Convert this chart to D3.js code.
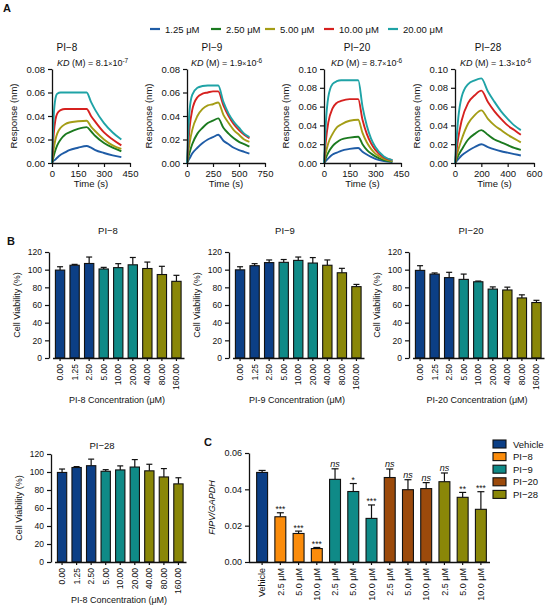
<!DOCTYPE html>
<html><head><meta charset="utf-8">
<script src="https://cdn.jsdelivr.net/npm/d3@7"></script>
<style>
body{margin:0;background:#fff}
svg{display:block;font-family:"Liberation Sans",Arial,Helvetica,sans-serif}
</style>
</head><body>
<svg id="fig" width="550" height="608"></svg>
<script>
// ---------- Panel A data (SPR sensorgrams) ----------
const concLabels = ["1.25 μM", "2.50 μM", "5.00 μM", "10.00 μM", "20.00 μM"];
const lineColors = ["#1f5ca6", "#1b7a1f", "#a49d16", "#d6211f", "#1fa3a6"];

const pi8Time = [0, 10, 20, 30, 50, 75, 100, 150, 200, 225, 250, 300, 350, 400];
const pi8Resp = [
  [0, 0.002, 0.003, 0.0045, 0.007, 0.009, 0.011, 0.013, 0.0145, 0.013, 0.011, 0.0085, 0.0065, 0.005],
  [0, 0.006, 0.011, 0.015, 0.020, 0.024, 0.026, 0.029, 0.0305, 0.027, 0.023, 0.017, 0.013, 0.010],
  [0, 0.012, 0.020, 0.025, 0.030, 0.033, 0.0345, 0.0355, 0.036, 0.031, 0.027, 0.020, 0.015, 0.012],
  [0, 0.025, 0.037, 0.042, 0.045, 0.046, 0.046, 0.046, 0.046, 0.040, 0.035, 0.026, 0.020, 0.015],
  [0, 0.040, 0.055, 0.059, 0.060, 0.060, 0.060, 0.060, 0.060, 0.052, 0.045, 0.034, 0.026, 0.020]
];
const pi9Time = [0, 25, 50, 100, 150, 200, 250, 300, 350, 400, 450, 500, 550, 600];
const pi9Resp = [
  [0, 0.004, 0.008, 0.013, 0.017, 0.020, 0.022, 0.024, 0.019, 0.016, 0.013, 0.011, 0.0095, 0.008],
  [0, 0.009, 0.016, 0.025, 0.030, 0.034, 0.036, 0.038, 0.030, 0.025, 0.021, 0.018, 0.016, 0.014],
  [0, 0.017, 0.028, 0.040, 0.046, 0.049, 0.050, 0.0515, 0.041, 0.034, 0.028, 0.024, 0.020, 0.018],
  [0, 0.030, 0.045, 0.056, 0.059, 0.060, 0.061, 0.061, 0.049, 0.040, 0.033, 0.028, 0.024, 0.021],
  [0, 0.045, 0.058, 0.064, 0.0655, 0.066, 0.066, 0.066, 0.052, 0.042, 0.035, 0.030, 0.025, 0.022]
];
const pi20Time = [0, 10, 25, 50, 75, 100, 150, 200, 225, 250, 275, 300, 350, 400];
const pi20Resp = [
  [0, 0.002, 0.005, 0.009, 0.011, 0.013, 0.015, 0.016, 0.012, 0.009, 0.0065, 0.0045, 0.002, 0.001],
  [0, 0.005, 0.011, 0.018, 0.022, 0.025, 0.027, 0.028, 0.020, 0.014, 0.010, 0.007, 0.003, 0.0015],
  [0, 0.010, 0.021, 0.031, 0.038, 0.041, 0.045, 0.046, 0.032, 0.022, 0.015, 0.010, 0.0045, 0.002],
  [0, 0.022, 0.043, 0.058, 0.064, 0.066, 0.068, 0.068, 0.046, 0.031, 0.021, 0.014, 0.006, 0.003],
  [0, 0.040, 0.070, 0.084, 0.087, 0.088, 0.088, 0.088, 0.060, 0.040, 0.026, 0.017, 0.007, 0.003]
];
const pi28Time = [0, 25, 50, 100, 150, 200, 250, 300, 350, 400, 450, 500];
const pi28Resp = [
  [0, 0.004, 0.008, 0.013, 0.017, 0.020, 0.017, 0.0145, 0.0125, 0.011, 0.0095, 0.008],
  [0, 0.008, 0.014, 0.025, 0.031, 0.035, 0.030, 0.025, 0.022, 0.019, 0.016, 0.014],
  [0, 0.014, 0.025, 0.042, 0.051, 0.056, 0.047, 0.040, 0.035, 0.030, 0.026, 0.022],
  [0, 0.027, 0.045, 0.064, 0.072, 0.077, 0.065, 0.055, 0.047, 0.040, 0.035, 0.030],
  [0, 0.048, 0.070, 0.084, 0.088, 0.090, 0.076, 0.065, 0.055, 0.047, 0.040, 0.035]
];
const kdMantissa = ["8.1", "1.9", "8.7", "1.3"];
const kdExponent = ["-7", "-6", "-6", "-6"];

// ---------- Panel B data (cell viability) ----------
const doseLabels = ["0.00", "1.25", "2.50", "5.00", "10.00", "20.00", "40.00", "80.00", "160.00"];
const pi8Via  = [99.5, 105, 107, 100.8, 102.3, 105.5, 101.3, 94.5, 86.8];
const pi8Err  = [3.8, 1.0, 7.3, 1.8, 4.5, 8.3, 7.3, 9.3, 6.8];
const pi9Via  = [99.8, 104.5, 108, 108.3, 110.5, 107.5, 105, 96.5, 80.8];
const pi9Err  = [3.5, 2.3, 3.0, 3.2, 3.8, 6.2, 6.0, 5.0, 2.5];
const pi20Via = [99.2, 95, 91, 89, 86.3, 78, 77, 68, 62.8];
const pi20Err = [5.3, 1.3, 6.0, 6.0, 0.8, 2.5, 3.2, 3.5, 2.5];
const pi28Via = [99.5, 105, 107, 100.8, 102.3, 105.5, 101.3, 94.5, 86.8];
const pi28Err = [3.8, 1.0, 7.3, 1.8, 4.5, 8.3, 7.3, 9.3, 6.8];
const doseColors = ["#0c3f86", "#0f8a87", "#8a8708"];

// ---------- Panel C data (FIPV/GAPDH) ----------
const cLabels = ["Vehicle", "2.5 μM", "5.0 μM", "10.0 μM", "2.5 μM", "5.0 μM", "10.0 μM",
                 "2.5 μM", "5.0 μM", "10.0 μM", "2.5 μM", "5.0 μM", "10.0 μM"];
const cGroup  = [0, 1, 1, 1, 2, 2, 2, 3, 3, 3, 4, 4, 4];
const cMean   = [0.0493, 0.0249, 0.0157, 0.0074, 0.0455, 0.0388, 0.0240, 0.0465, 0.0398, 0.0404, 0.0442, 0.0356, 0.0290];
const cErr    = [0.0011, 0.0022, 0.0013, 0.0006, 0.0058, 0.0044, 0.0074, 0.0047, 0.0055, 0.0033, 0.0048, 0.0027, 0.0097];
const cSig    = ["", "***", "***", "***", "ns", "*", "***", "ns", "ns", "ns", "ns", "**", "***"];
const cGroupNames = ["Vehicle", "PI−8", "PI−9", "PI−20", "PI−28"];
const cColors = ["#0c3f86", "#fb8c0b", "#0f8a87", "#9c4a0b", "#8a8708"];

// ---------- drawing ----------
const svg = d3.select("#fig");
const INK = "#111";

function styleAxis(g, fs) {
  g.select(".domain").attr("stroke", INK).attr("stroke-width", 1.3);
  g.selectAll(".tick line").attr("stroke", INK).attr("stroke-width", 1.2);
  g.selectAll(".tick text").attr("fill", INK).style("font-size", fs + "px").style("font-family", "inherit");
}

function label(x, y, txt, fs, opts = {}) {
  const t = svg.append("text").attr("x", x).attr("y", y).text(txt)
    .style("font-size", fs + "px").attr("fill", INK)
    .attr("text-anchor", opts.anchor || "middle");
  if (opts.rotate) t.attr("transform", `rotate(-90,${x},${y})`);
  if (opts.weight) t.style("font-weight", opts.weight);
  if (opts.italic) t.style("font-style", "italic");
  return t;
}

// Panel letters
label(3, 12, "A", 11, { anchor: "start", weight: "bold" });
label(7, 245, "B", 11, { anchor: "start", weight: "bold" });
label(204, 446, "C", 11, { anchor: "start", weight: "bold" });

// Legend A
const legX = [150, 211, 265, 324, 388];
concLabels.forEach((c, i) => {
  svg.append("line").attr("x1", legX[i]).attr("x2", legX[i] + 10).attr("y1", 29).attr("y2", 29)
    .attr("stroke", lineColors[i]).attr("stroke-width", 2.2);
  label(legX[i] + 15, 32.5, c, 9.5, { anchor: "start" });
});

function lineChart(o) {
  const x = d3.scaleLinear().domain([0, o.xMax]).range([o.x0, o.x1]);
  const y = d3.scaleLinear().domain([0, o.yMax]).range([163, 69]);
  const line = d3.line().x((d, i) => x(o.time[i])).y(d => y(d)).curve(d3.curveMonotoneX);
  o.resp.forEach((r, i) => {
    svg.append("path").attr("d", line(r)).attr("fill", "none")
      .attr("stroke", lineColors[i]).attr("stroke-width", 1.9);
  });
  const gx = svg.append("g").attr("transform", "translate(0,163)")
    .call(d3.axisBottom(x).tickValues(o.xTicks).tickSize(4).tickSizeOuter(0).tickFormat(d3.format("d")));
  styleAxis(gx, 9.5);
  const gy = svg.append("g").attr("transform", `translate(${o.x0},0)`)
    .call(d3.axisLeft(y).tickValues(o.yTicks).tickSize(4).tickSizeOuter(0).tickFormat(d3.format(".2f")));
  styleAxis(gy, 9.5);
  label(o.titleX, 51, o.title, 10);
  label((o.x0 + o.x1) / 2, 187, "Time (s)", 9.5);
  label(o.x0 - 35, 116, "Response (nm)", 9.5, { rotate: true });
  const kd = svg.append("text").attr("x", o.kdX).attr("y", 66).attr("fill", INK).style("font-size", "9px");
  kd.append("tspan").text("KD").style("font-style", "italic");
  kd.append("tspan").text(" (M) = " + kdMantissa[o.k]);
  kd.append("tspan").text("×").style("font-size", "7px");
  kd.append("tspan").text("10");
  kd.append("tspan").text(kdExponent[o.k]).attr("dy", -3.5).style("font-size", "6.5px");
}

const y8 = [0, 0.02, 0.04, 0.06, 0.08], y10 = [0, 0.02, 0.04, 0.06, 0.08, 0.10];
lineChart({ x0: 52, x1: 130, xMax: 450, xTicks: [0, 150, 300, 450], yMax: 0.08, yTicks: y8,
  time: pi8Time, resp: pi8Resp, title: "PI−8", titleX: 67, kdX: 57, k: 0 });
lineChart({ x0: 187, x1: 265, xMax: 750, xTicks: [0, 250, 500, 750], yMax: 0.08, yTicks: y8,
  time: pi9Time, resp: pi9Resp, title: "PI−9", titleX: 212, kdX: 191, k: 1 });
lineChart({ x0: 324, x1: 401, xMax: 450, xTicks: [0, 150, 300, 450], yMax: 0.10, yTicks: y10,
  time: pi20Time, resp: pi20Resp, title: "PI−20", titleX: 357, kdX: 331, k: 2 });
lineChart({ x0: 455, x1: 534, xMax: 600, xTicks: [0, 200, 400, 600], yMax: 0.10, yTicks: y10,
  time: pi28Time, resp: pi28Resp, title: "PI−28", titleX: 488, kdX: 460, k: 3 });

function barChart(o) {
  const x = d3.scaleBand().domain(doseLabels).range([o.ax + 3.5, o.ax + 135]).paddingInner(0.36).paddingOuter(0.2);
  const y = d3.scaleLinear().domain([0, 120]).range([o.y0, o.yTop]);
  const bw = x.bandwidth();
  doseLabels.forEach((d, i) => {
    const cx = x(d) + bw / 2;
    const top = y(o.vals[i]), etop = y(o.vals[i] + o.errs[i]);
    svg.append("line").attr("x1", cx).attr("x2", cx).attr("y1", top).attr("y2", etop).attr("stroke", INK).attr("stroke-width", 1.2);
    svg.append("line").attr("x1", cx - 3).attr("x2", cx + 3).attr("y1", etop).attr("y2", etop).attr("stroke", INK).attr("stroke-width", 1.2);
    svg.append("rect").attr("x", x(d)).attr("y", top).attr("width", bw).attr("height", o.y0 - top)
      .attr("fill", doseColors[Math.floor(i / 3)]).attr("stroke", INK).attr("stroke-width", 1.1);
  });
  const gx = svg.append("g").attr("transform", `translate(0,${o.y0})`)
    .call(d3.axisBottom(x).tickSize(3).tickSizeOuter(0));
  styleAxis(gx, 8.5);
  gx.selectAll(".tick text").attr("transform", "rotate(-90)").attr("x", -6).attr("y", 0).attr("dy", "0.35em")
    .style("text-anchor", "end");
  const gy = svg.append("g").attr("transform", `translate(${o.ax},0)`)
    .call(d3.axisLeft(y).tickValues([0, 20, 40, 60, 80, 100, 120]).tickSize(4).tickSizeOuter(0));
  styleAxis(gy, 8.5);
  label(o.titleX, o.titleY, o.title, 9.5);
  label(o.ax + 68, o.xlY, o.xl, 9);
  label(o.ax - 29, (o.y0 + o.yTop) / 2, "Cell Viability (%)", 9, { rotate: true });
}

barChart({ ax: 49, yTop: 252, y0: 358, vals: pi8Via, errs: pi8Err, title: "PI−8", titleX: 108, titleY: 234,
  xl: "PI-8 Concentration (μM)", xlY: 403 });
barChart({ ax: 229, yTop: 252, y0: 358, vals: pi9Via, errs: pi9Err, title: "PI−9", titleX: 285, titleY: 234,
  xl: "PI-9 Concentration (μM)", xlY: 403 });
barChart({ ax: 409, yTop: 252, y0: 358, vals: pi20Via, errs: pi20Err, title: "PI−20", titleX: 471, titleY: 234,
  xl: "PI-20 Concentration (μM)", xlY: 403 });
barChart({ ax: 51, yTop: 454, y0: 562, vals: pi28Via, errs: pi28Err, title: "PI−28", titleX: 102, titleY: 449,
  xl: "PI-8 Concentration (μM)", xlY: 603 });

// Panel C
(function () {
  const ax = 249, y0 = 562, yTop = 453;
  const idx = cLabels.map((d, i) => i);
  const x = d3.scaleBand().domain(idx).range([ax + 4, 490]).paddingInner(0.4).paddingOuter(0.2);
  const y = d3.scaleLinear().domain([0, 0.06]).range([y0, yTop]);
  const bw = x.bandwidth();
  idx.forEach(i => {
    const cx = x(i) + bw / 2;
    const top = y(cMean[i]), etop = y(cMean[i] + cErr[i]);
    svg.append("line").attr("x1", cx).attr("x2", cx).attr("y1", top).attr("y2", etop).attr("stroke", INK).attr("stroke-width", 1.2);
    svg.append("line").attr("x1", cx - 3.5).attr("x2", cx + 3.5).attr("y1", etop).attr("y2", etop).attr("stroke", INK).attr("stroke-width", 1.2);
    svg.append("rect").attr("x", x(i)).attr("y", top).attr("width", bw).attr("height", y0 - top)
      .attr("fill", cColors[cGroup[i]]).attr("stroke", INK).attr("stroke-width", 1.1);
    if (cSig[i]) {
      const isNs = cSig[i] === "ns";
      label(cx, etop - (isNs ? 2 : 0.5), cSig[i], isNs ? 9 : 8.5, { italic: isNs });
    }
  });
  const gx = svg.append("g").attr("transform", `translate(0,${y0})`)
    .call(d3.axisBottom(x).tickSize(3).tickSizeOuter(0).tickFormat(i => cLabels[i]));
  styleAxis(gx, 9);
  gx.select(".domain").attr("d", `M${ax},0.5H490`);
  gx.selectAll(".tick text").attr("transform", "rotate(-90)").attr("x", -6).attr("y", 0).attr("dy", "0.35em")
    .style("text-anchor", "end");
  const gy = svg.append("g").attr("transform", `translate(${ax},0)`)
    .call(d3.axisLeft(y).tickValues([0, 0.02, 0.04, 0.06]).tickSize(4).tickSizeOuter(0).tickFormat(d3.format(".2f")));
  styleAxis(gy, 9);
  label(215, (y0 + yTop) / 2, "FIPV/GAPDH", 9, { rotate: true, italic: true });
  // legend
  cGroupNames.forEach((n, i) => {
    const yy = 444 + i * 12.6;
    svg.append("rect").attr("x", 493).attr("y", yy - 4).attr("width", 13).attr("height", 8)
      .attr("fill", cColors[i]).attr("stroke", INK).attr("stroke-width", 1.1);
    label(513, yy + 3.5, n, 9.5, { anchor: "start" });
  });
})();
</script>
</body></html>
